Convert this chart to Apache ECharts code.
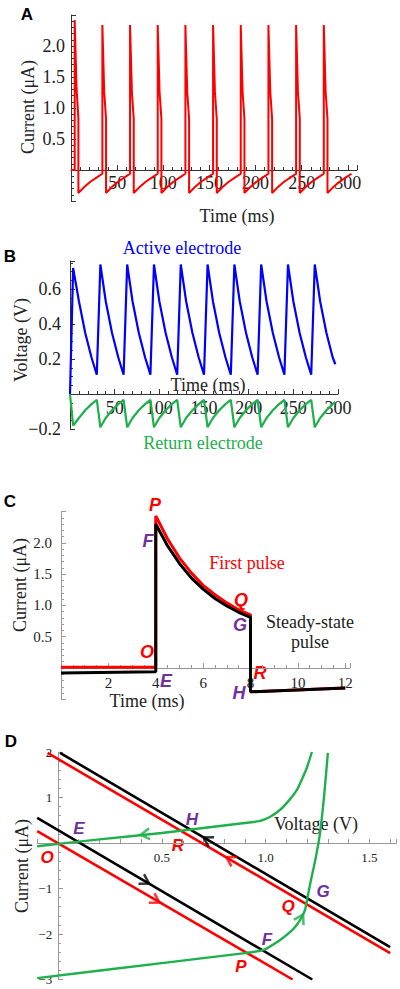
<!DOCTYPE html>
<html><head><meta charset="utf-8">
<script src="https://cdn.jsdelivr.net/npm/echarts@6/dist/echarts.min.js"></script>
<style>html,body{margin:0;padding:0;background:#fff}#c{width:400px;height:989px}</style>
</head><body><div id="c"></div>
<script>
// ---------- Panel A: current vs time (ms) ----------
const aTime = [0,4,4,6,8,8,14,21,28,34,
  34,36,38,38,44,51,58,64,
  64,66,68,68,74,81,88,94,
  94,96,98,98,104,111,118,124,
  124,126,128,128,134,141,148,154,
  154,156,158,158,164,171,178,184,
  184,186,188,188,194,201,208,214,
  214,216,218,218,224,231,238,244,
  244,246,248,248,254,261,268,274,
  274,276,278,278,284,291,298,304];
const aCurrent = [0,0,2.42,1.32,0.84,-0.37,-0.28,-0.19,-0.12,-0.06,
  2.34,1.26,0.82,-0.37,-0.28,-0.19,-0.12,-0.06,
  2.34,1.26,0.82,-0.37,-0.28,-0.19,-0.12,-0.06,
  2.34,1.26,0.82,-0.37,-0.28,-0.19,-0.12,-0.06,
  2.34,1.26,0.82,-0.37,-0.28,-0.19,-0.12,-0.06,
  2.34,1.26,0.82,-0.37,-0.28,-0.19,-0.12,-0.06,
  2.34,1.26,0.82,-0.37,-0.28,-0.19,-0.12,-0.06,
  2.34,1.26,0.82,-0.37,-0.28,-0.19,-0.12,-0.06,
  2.34,1.26,0.82,-0.37,-0.28,-0.19,-0.12,-0.06,
  2.34,1.26,0.82,-0.37,-0.28,-0.19,-0.12,-0.06];

// ---------- Panel B: electrode voltages vs time (ms) ----------
const bTime = [0,3.5,10,17,24,30,
  34,40,47,54,60, 64,70,77,84,90, 94,100,107,114,120,
  124,130,137,144,150, 154,160,167,174,180, 184,190,197,204,210,
  214,220,227,234,240, 244,250,257,264,270, 274,280,287,294,297];
const bActive = [0,0.72,0.53,0.35,0.21,0.11,
  0.74,0.53,0.35,0.21,0.11, 0.74,0.53,0.35,0.21,0.11, 0.74,0.53,0.35,0.21,0.11,
  0.74,0.53,0.35,0.21,0.11, 0.74,0.53,0.35,0.21,0.11, 0.74,0.53,0.35,0.21,0.11,
  0.74,0.53,0.35,0.21,0.11, 0.74,0.53,0.35,0.21,0.11, 0.74,0.53,0.35,0.21,0.17];
const bReturn = [0,-0.18,-0.137,-0.093,-0.058,-0.034,
  -0.19,-0.137,-0.093,-0.058,-0.034, -0.19,-0.137,-0.093,-0.058,-0.034, -0.19,-0.137,-0.093,-0.058,-0.034,
  -0.19,-0.137,-0.093,-0.058,-0.034, -0.19,-0.137,-0.093,-0.058,-0.034, -0.19,-0.137,-0.093,-0.058,-0.034,
  -0.19,-0.137,-0.093,-0.058,-0.034, -0.19,-0.137,-0.093,-0.058,-0.034, -0.19,-0.137,-0.093,-0.058,-0.045];

// ---------- Panel C: first pulse vs steady-state pulse ----------
const cTime   = [0,4,4,4.5,5,5.5,6,6.5,7,7.5,8,8,12];
const cFirst  = [0.01,0.01,2.43,2.06,1.76,1.52,1.32,1.17,1.04,0.93,0.85,-0.38,-0.32];
const cSteady = [-0.08,-0.06,2.30,1.95,1.67,1.44,1.26,1.11,0.99,0.89,0.81,-0.38,-0.32];

// ---------- Panel D: current vs voltage ----------
const dFirstUpper  = [[-0.05,1.98],[1.60,-2.42]];
const dFirstLower  = [[-0.10,0.26],[1.13,-3.0]];
const dSteadyUpper = [[0.01,1.98],[1.60,-2.29]];
const dSteadyLower = [[-0.10,0.55],[1.225,-3.0]];
const dCurveUpperV = [-0.10,0.20,0.50,0.70,0.88,0.97,1.02,1.07,1.11,1.15,1.18,1.20,1.223];
const dCurveUpperI = [-0.07,0.08,0.22,0.33,0.43,0.48,0.57,0.73,0.92,1.16,1.45,1.67,2.0];
const dCurveLowerV = [-0.10,0.50,0.90,0.99,1.07,1.12,1.15,1.175,1.19,1.205,1.22,1.24,1.26,1.28,1.30];
const dCurveLowerI = [-2.97,-2.64,-2.42,-2.35,-2.13,-1.95,-1.80,-1.62,-1.47,-1.12,-0.78,-0.36,0.15,0.95,1.98];
// arrows: [V, I, direction in degrees]
const dArrowsRed   = [[0.83,-0.36,150],[0.47,-1.26,-30]];
const dArrowsBlack = [[0.72,0.07,150],[0.42,-0.84,-30]];
const dArrowsGreen = [[0.42,0.19,186],[1.17,-1.66,61]];

const zip = (a, b) => a.map((v, i) => [v, b[i]]);

const RED = '#ff0000', BLUE = '#0000ff', GREEN = '#1db04b', PURPLE = '#7030a0';
const SERIF = '"Liberation Serif", "Times New Roman", serif';
const SANS = '"Liberation Sans", Arial, sans-serif';

function axis(o) {
  const col = o.color;
  return {
    type: 'value', gridIndex: o.grid, min: o.min, max: o.max, interval: o.interval,
    splitLine: {show: false},
    axisLine: {onZero: true, lineStyle: {color: col, width: 1}},
    axisTick: {inside: true, length: o.tickLen || 5, lineStyle: {color: col}},
    minorTick: {show: !!o.minor, splitNumber: o.minor || 5, length: 3, lineStyle: {color: col}},
    axisLabel: {margin: o.margin, fontFamily: SERIF, fontSize: o.fontSize, color: '#222', formatter: o.fmt},
    silent: true
  };
}
const near = (v, m) => Math.abs(v / m - Math.round(v / m)) < 1e-6;

const chart = echarts.init(document.getElementById('c'), null, {renderer: 'svg'});

const arrowPath = 'path://M0,0L10,6L0,12';
function arrowSeries(data, color) {
  return {type: 'scatter', xAxisIndex: 3, yAxisIndex: 3, data: data.map(d => [d[0], d[1]]),
    symbol: arrowPath, symbolSize: [9, 11],
    symbolRotate: (val, p) => data[p.dataIndex][2],
    itemStyle: {color: 'rgba(0,0,0,0)', borderColor: color, borderWidth: 2.4},
    silent: true, z: 5};
}

function txt(text, x, y, color, font, rot) {
  return {type: 'text', x: x, y: y, rotation: rot || 0, silent: true,
    style: {text: text, fill: color, font: font, align: 'center', verticalAlign: 'middle'}};
}
const fTitle = '18px ' + SERIF;
const fPanel = 'bold 17px ' + SANS;
const fLetter = 'italic bold 18px ' + SANS;
const fLetterD = 'italic bold 17px ' + SANS;

const option = {
  animation: false,
  backgroundColor: '#fff',
  grid: [
    {left: 71, top: 15, width: 286, height: 186},
    {left: 70, top: 261, width: 268, height: 168},
    {left: 61, top: 511.5, width: 289, height: 187.8},
    {left: 37.2, top: 752, width: 359.2, height: 227.5}
  ],
  xAxis: [
    axis({grid: 0, min: 0, max: 310, interval: 50, minor: 5, color: '#333', margin: -27, fontSize: 18,
      fmt: v => (v > 0 && near(v, 50)) ? String(v) : ''}),
    axis({grid: 1, min: 0, max: 300, interval: 50, minor: 5, color: '#333', margin: -30, fontSize: 18,
      fmt: v => (v > 0 && near(v, 50)) ? String(v) : ''}),
    axis({grid: 2, min: 0, max: 12.2, interval: 2, minor: 4, color: '#999', margin: -24, fontSize: 15,
      fmt: v => (v > 0 && near(v, 2)) ? String(Math.round(v)) : ''}),
    axis({grid: 3, min: -0.1, max: 1.63, interval: 0.1, color: '#999', margin: -129, fontSize: 13, tickLen: 4,
      fmt: v => { const r = Math.round(v * 10) / 10; return (r > 0 && near(r, 0.5)) ? r.toFixed(1) : ''; }})
  ],
  yAxis: [
    axis({grid: 0, min: -0.5, max: 2.5, interval: 0.5, minor: 5, color: '#333', margin: 6, fontSize: 18,
      fmt: v => (v > 0.01 && v < 2.49) ? v.toFixed(1) : ''}),
    axis({grid: 1, min: -0.2, max: 0.76, interval: 0.2, minor: 4, color: '#333', margin: 9, fontSize: 18,
      fmt: v => { const r = Math.round(v * 10) / 10; if (Math.abs(r) < 1e-6 || !near(r, 0.2) || r > 0.7) return ''; return r < 0 ? '\u2212' + (-r).toFixed(1) : r.toFixed(1); }}),
    axis({grid: 2, min: -0.5, max: 2.5, interval: 0.5, minor: 5, color: '#999', margin: 9, fontSize: 15,
      fmt: v => (v > 0.01 && v < 2.49) ? v.toFixed(1) : ''}),
    axis({grid: 3, min: -3, max: 2, interval: 1, minor: 5, color: '#999', margin: -15, fontSize: 13,
      fmt: v => v === 0 ? '' : (v < 0 ? '\u2212' + (-v) : String(v))})
  ],
  series: [
    {type: 'line', xAxisIndex: 0, yAxisIndex: 0, data: zip(aTime, aCurrent), symbol: 'none',
      lineStyle: {color: RED, width: 2}, silent: true},
    {type: 'line', xAxisIndex: 1, yAxisIndex: 1, data: zip(bTime, bActive), symbol: 'none',
      lineStyle: {color: BLUE, width: 2.2}, silent: true},
    {type: 'line', xAxisIndex: 1, yAxisIndex: 1, data: zip(bTime, bReturn), symbol: 'none',
      lineStyle: {color: GREEN, width: 2.2}, silent: true},
    {type: 'line', xAxisIndex: 2, yAxisIndex: 2, data: zip(cTime, cFirst), symbol: 'none',
      lineStyle: {color: RED, width: 3}, silent: true},
    {type: 'line', xAxisIndex: 2, yAxisIndex: 2, data: zip(cTime, cSteady), symbol: 'none',
      lineStyle: {color: '#000', width: 3}, silent: true},
    {type: 'line', xAxisIndex: 3, yAxisIndex: 3, data: dFirstUpper, symbol: 'none', lineStyle: {color: RED, width: 2.6}, silent: true},
    {type: 'line', xAxisIndex: 3, yAxisIndex: 3, data: dFirstLower, symbol: 'none', lineStyle: {color: RED, width: 2.6}, silent: true},
    {type: 'line', xAxisIndex: 3, yAxisIndex: 3, data: dSteadyUpper, symbol: 'none', lineStyle: {color: '#000', width: 2.6}, silent: true},
    {type: 'line', xAxisIndex: 3, yAxisIndex: 3, data: dSteadyLower, symbol: 'none', lineStyle: {color: '#000', width: 2.6}, silent: true},
    {type: 'line', xAxisIndex: 3, yAxisIndex: 3, data: zip(dCurveUpperV, dCurveUpperI), symbol: 'none', smooth: 0.2, lineStyle: {color: GREEN, width: 2.4}, silent: true},
    {type: 'line', xAxisIndex: 3, yAxisIndex: 3, data: zip(dCurveLowerV, dCurveLowerI), symbol: 'none', smooth: 0.2, lineStyle: {color: GREEN, width: 2.4}, silent: true},
    arrowSeries(dArrowsRed, RED),
    arrowSeries(dArrowsBlack, '#000'),
    arrowSeries(dArrowsGreen, GREEN)
  ],
  graphic: [
    // panel letters
    txt('A', 27, 14, '#000', fPanel), txt('B', 10, 256, '#000', fPanel),
    txt('C', 10, 501, '#000', fPanel), txt('D', 11, 741, '#000', fPanel),
    // Panel A titles
    txt('Current (\u03bcA)', 28, 107, '#222', fTitle, Math.PI / 2),
    txt('Time (ms)', 237, 216, '#222', fTitle),
    // Panel B
    txt('Voltage (V)', 21, 340, '#222', fTitle, Math.PI / 2),
    txt('Time (ms)', 208, 385, '#222', fTitle),
    txt('Active electrode', 182, 248, BLUE, fTitle),
    txt('Return electrode', 203, 443, GREEN, fTitle),
    // Panel C
    txt('Current (\u03bcA)', 20, 585, '#222', fTitle, Math.PI / 2),
    txt('Time (ms)', 147, 701, '#222', fTitle),
    txt('First pulse', 247, 563, RED, fTitle),
    txt('Steady-state', 310, 622, '#222', fTitle),
    txt('pulse', 310, 642, '#222', fTitle),
    txt('P', 155, 505, RED, fLetter), txt('F', 148, 541, PURPLE, fLetter),
    txt('Q', 241, 600, RED, fLetter), txt('G', 240, 625, PURPLE, fLetter),
    txt('O', 147, 652, RED, fLetter), txt('E', 166, 681, PURPLE, fLetter),
    txt('R', 260, 673, RED, fLetter), txt('H', 239, 693, PURPLE, fLetter),
    // Panel D
    txt('Current (\u03bcA)', 22, 866, '#222', fTitle, Math.PI / 2),
    txt('Voltage (V)', 316, 824, '#222', fTitle),
    txt('H', 192, 819, PURPLE, fLetterD), txt('E', 79, 828, PURPLE, fLetterD),
    txt('R', 178, 845, RED, fLetterD), txt('O', 47, 857, RED, fLetterD),
    txt('G', 323, 891, PURPLE, fLetterD), txt('Q', 288, 906, RED, fLetterD),
    txt('F', 267, 939, PURPLE, fLetterD), txt('P', 241, 966, RED, fLetterD)
  ]
};
chart.setOption(option);
</script>
</body></html>
